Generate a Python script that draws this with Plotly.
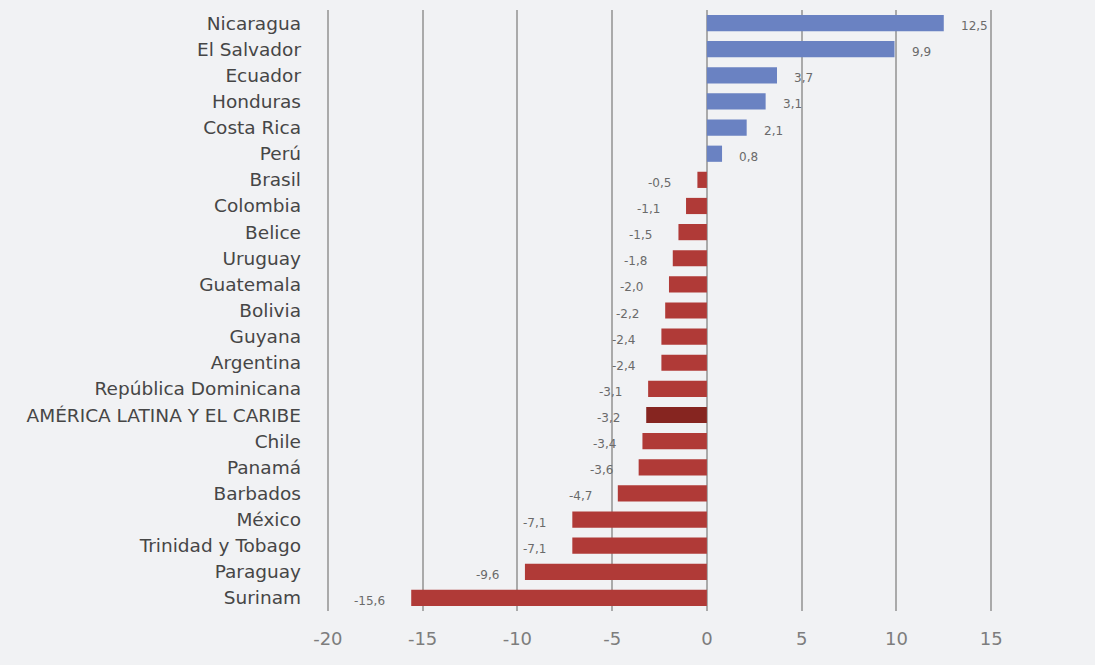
import plotly.graph_objects as go

countries = ["Nicaragua", "El Salvador", "Ecuador", "Honduras", "Costa Rica", "Perú",
             "Brasil", "Colombia", "Belice", "Uruguay", "Guatemala", "Bolivia", "Guyana",
             "Argentina", "República Dominicana", "AMÉRICA LATINA Y EL CARIBE", "Chile",
             "Panamá", "Barbados", "México", "Trinidad y Tobago", "Paraguay", "Surinam"]
values = [12.5, 9.9, 3.7, 3.1, 2.1, 0.8, -0.5, -1.1, -1.5, -1.8, -2.0, -2.2, -2.4,
          -2.4, -3.1, -3.2, -3.4, -3.6, -4.7, -7.1, -7.1, -9.6, -15.6]
tick_vals = [-20, -15, -10, -5, 0, 5, 10, 15]
tick_text = ["-20", "-15", "-10", "-5", "0", "5", "10", "15"]

BLUE = "#6a82c2"
RED = "#b03a37"
DARK = "#862520"
FONT = "DejaVu Sans, sans-serif"

colors = []
for c, v in zip(countries, values):
    if c.isupper():
        colors.append(DARK)
    elif v >= 0:
        colors.append(BLUE)
    else:
        colors.append(RED)

fig = go.Figure(go.Bar(
    x=values, y=countries, orientation="h",
    marker=dict(color=colors, line=dict(width=0)),
    hoverinfo="skip",
))

for c, v in zip(countries, values):
    txt = f"{v:.1f}".replace(".", ",")
    fig.add_annotation(
        x=v, y=c, text=txt, showarrow=False,
        xanchor="left" if v >= 0 else "right",
        xshift=15 if v >= 0 else -24,
        yshift=-3,
        font=dict(size=12, color="#6a6a6a", family=FONT),
    )

fig.update_layout(
    width=1095, height=665,
    paper_bgcolor="#f1f2f4", plot_bgcolor="#f1f2f4",
    margin=dict(l=325, r=101, t=10, b=54),
    bargap=0.38,
    showlegend=False,
    font=dict(family=FONT),
    xaxis=dict(
        range=[-20.15, 15.15], tickvals=tick_vals, ticktext=tick_text,
        showgrid=True, gridcolor="#aaaaaa", gridwidth=1.5,
        zeroline=False, showline=False,
        tickfont=dict(size=18, color="#7d7d7d"),
        ticks="", ticklabelstandoff=15,
    ),
    yaxis=dict(
        categoryorder="array", categoryarray=countries[::-1],
        showgrid=False, zeroline=False, showline=False,
        tickfont=dict(size=18.5, color="#464646"),
        ticks="", ticklabelstandoff=23,
    ),
)

fig.write_html("out.html", config={"displayModeBar": False},
               post_script="document.body.style.margin='0';")
